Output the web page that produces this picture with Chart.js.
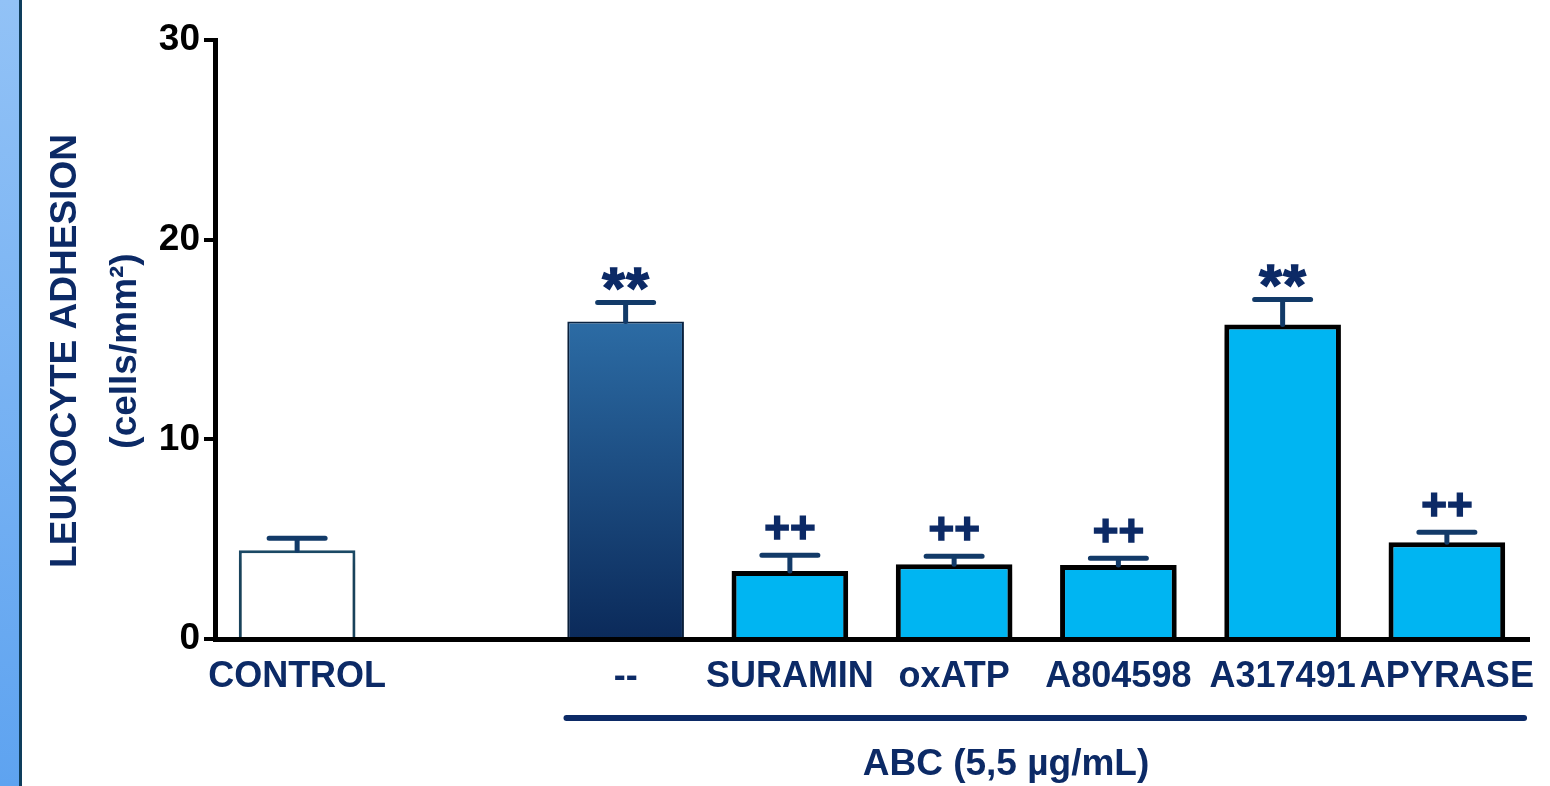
<!DOCTYPE html>
<html>
<head>
<meta charset="utf-8">
<script src="https://cdn.jsdelivr.net/npm/chart.js@4.4.0/dist/chart.umd.min.js"></script>
<style>
  html, body { margin: 0; padding: 0; background: #fff; overflow: hidden; }
  #strip { position: absolute; left: 0; top: 0; width: 19px; height: 786px;
           background: linear-gradient(#92c2f6, #5ea3f0); border-right: 3px solid #0e3d5c; }
  #wrap { position: absolute; left: 0; top: 0; width: 1550px; height: 786px; }
</style>
</head>
<body>
<div id="wrap"><canvas id="chart" width="1550" height="786"></canvas></div>
<div id="strip"></div>
<script>
// ---- data ----
const labels = ['CONTROL', '', '--', 'SURAMIN', 'oxATP', 'A804598', 'A317491', 'APYRASE'];
const means  = [4.45, null, 15.9, 3.4, 3.75, 3.7, 15.75, 4.85];
const sem    = [0.6, null, 0.95, 0.8, 0.4, 0.35, 1.25, 0.5];
const marks  = ['', '', '**', '++', '++', '++', '**', '++'];
const yTicks = [0, 10, 20, 30];
const yTitle = ['LEUKOCYTE ADHESION', '(cells/mm²)'];
const groupLabel = 'ABC (5,5 µg/mL)';

const NAVY = '#0c2a66';
const ERR = '#123a68';
const CYAN = '#00b5f2';
const FONT = '"Liberation Sans", Arial, sans-serif';

function barFill(ctx) {
  const i = ctx.dataIndex;
  if (i === 0) return '#ffffff';
  if (i === 2) {
    const ca = ctx.chart.chartArea;
    if (!ca) return '#1d4f86';
    const g = ctx.chart.ctx.createLinearGradient(0, ca.top + 280, 0, ca.bottom);
    g.addColorStop(0, '#2c6ca5');
    g.addColorStop(1, '#0b2a5a');
    return g;
  }
  return CYAN;
}
function barBorder(ctx) {
  const i = ctx.dataIndex;
  if (i === 0) return '#1c4a66';
  if (i === 2) return '#0a2342';
  return '#000000';
}
function barBorderW(ctx) {
  const i = ctx.dataIndex;
  if (i === 0) return 3;
  if (i === 2) return 2;
  return 5;
}

const extras = {
  id: 'extras',
  beforeDatasetsDraw(chart) {
    const c = chart.ctx;
    c.save();
    c.shadowColor = 'rgba(0,0,0,0.3)';
    c.shadowBlur = 10;
    c.shadowOffsetY = 8;
  },
  afterDatasetsDraw(chart) {
    const c = chart.ctx;
    c.restore();
    const y = chart.scales.y;
    const meta = chart.getDatasetMeta(0);
    c.save();
    c.lineCap = 'round';
    means.forEach((m, i) => {
      if (m == null) return;
      const px = meta.data[i].x;
      const top = y.getPixelForValue(m);
      const e = y.getPixelForValue(m + sem[i]);
      c.strokeStyle = ERR; c.lineWidth = 5;
      c.beginPath();
      c.moveTo(px, top); c.lineTo(px, e);
      c.moveTo(px - 28, e); c.lineTo(px + 28, e);
      c.stroke();
      // significance marks
      c.fillStyle = NAVY; c.textAlign = 'center'; c.textBaseline = 'alphabetic';
      c.strokeStyle = NAVY; c.lineWidth = 1.5;
      if (marks[i] === '**') {
        c.font = 'bold 58px ' + FONT;
        [-12, 12].forEach(dx => {
          c.fillText('*', px + dx, e + 5);
          c.strokeText('*', px + dx, e + 5);
        });
      } else if (marks[i] === '++') {
        c.font = 'bold 44px ' + FONT;
        c.fillText(marks[i], px, e - 12);
        c.strokeText(marks[i], px, e - 12);
      }
    });
    c.restore();
  },
  afterDraw(chart) {
    const c = chart.ctx, x = chart.scales.x;
    c.save();
    // y title, two rotated lines
    c.fillStyle = NAVY; c.textAlign = 'center'; c.textBaseline = 'middle';
    c.font = 'bold 37px ' + FONT;
    c.translate(66, 351); c.rotate(-Math.PI / 2);
    c.fillText(yTitle[0], 0, 0);
    c.fillText(yTitle[1], 0, 60);
    c.restore();
    // ABC bracket
    c.save();
    const slot = x.getPixelForValue(3) - x.getPixelForValue(2);
    const x0 = x.getPixelForValue(2) - slot * 0.36;
    const x1 = x.getPixelForValue(7) + slot * 0.47;
    c.strokeStyle = NAVY; c.lineWidth = 6; c.lineCap = 'round';
    c.beginPath(); c.moveTo(x0, 718); c.lineTo(x1, 718); c.stroke();
    c.fillStyle = NAVY; c.textAlign = 'center'; c.textBaseline = 'middle';
    c.font = 'bold 37px ' + FONT;
    c.fillText(groupLabel, 1006, 765);
    c.restore();
  }
};

new Chart(document.getElementById('chart'), {
  type: 'bar',
  data: {
    labels: labels,
    datasets: [{
      data: means,
      backgroundColor: barFill,
      borderColor: barBorder,
      borderWidth: barBorderW,
      borderSkipped: 'start',
      barPercentage: 0.71,
      categoryPercentage: 1
    }]
  },
  options: {
    responsive: false,
    animation: false,
    layout: { padding: { top: 40, right: 21, left: 0, bottom: 0 } },
    plugins: { legend: { display: false }, tooltip: { enabled: false } },
    scales: {
      x: {
        grid: { display: false },
        border: { display: true, color: '#000', width: 5 },
        ticks: {
          color: NAVY, autoSkip: false, maxRotation: 0, padding: 8,
          font: { family: FONT, size: 36, weight: 'bold' }
        },
        afterFit: s => { s.height = 786 - 639; }
      },
      y: {
        min: 0, max: 30,
        afterBuildTicks: s => { s.ticks = yTicks.map(v => ({ value: v })); },
        grid: { display: true, drawOnChartArea: false, drawTicks: true, tickLength: 11, lineWidth: 4, color: '#000' },
        border: { display: true, color: '#000', width: 5 },
        ticks: { color: '#000', padding: 4, font: { family: FONT, size: 37, weight: 'bold' } },
        afterFit: s => { s.width = 215; }
      }
    }
  },
  plugins: [extras]
});
</script>
</body>
</html>
